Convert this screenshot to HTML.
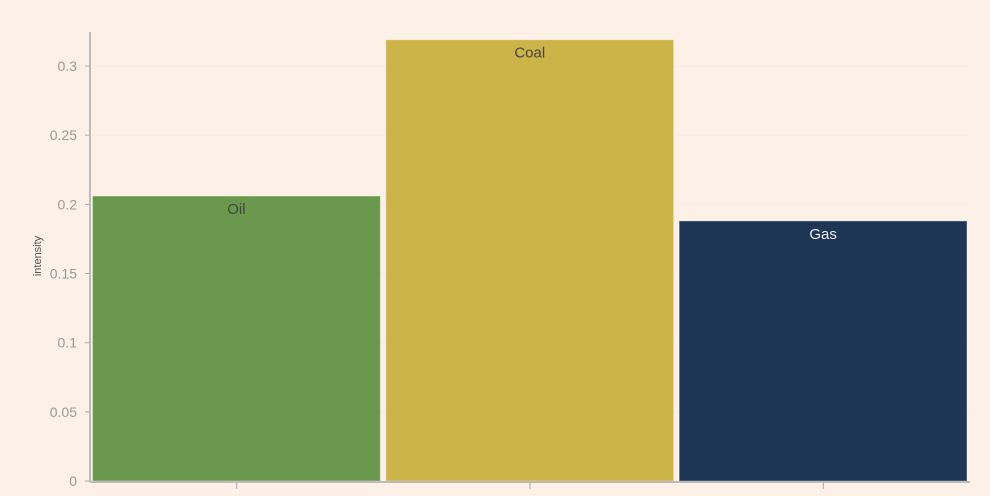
<!DOCTYPE html>
<html><head><meta charset="utf-8"><style>
html,body{margin:0;padding:0;background:#fcf0e7;}
svg{display:block;font-family:"Liberation Sans",sans-serif;}
</style></head><body>
<svg id="chart" width="990" height="496">
<rect width="990" height="496" fill="#fcf0e7"/>
</svg>
<script>
const categories = ["Oil","Coal","Gas"];
const values = [0.206, 0.319, 0.188];
const colors = ["#6a994e","#cdb449","#1e3555"];
const labelColors = ["#444444","#444444","#eeeeee"];
const yTicks = [0,0.05,0.1,0.15,0.2,0.25,0.3];
const yTickLabels = ["0","0.05","0.1","0.15","0.2","0.25","0.3"];

const NS="http://www.w3.org/2000/svg";
const svg=document.getElementById('chart');
const x0=90,x1=970,yBase=481,yPerUnit=(481-66)/0.3;
const y=v=>yBase-v*yPerUnit;
const band=(x1-x0)/categories.length;
const bx=i=>x0+i*band;
function mk(t,a){const e=document.createElementNS(NS,t);for(const k in a)e.setAttribute(k,a[k]);svg.appendChild(e);return e;}

yTicks.forEach((t,i)=>{
  if(t>0){const g=mk('line',{x1:x0,x2:x1,y1:y(t),y2:y(t),stroke:'#f3ebe6','stroke-width':1});
  
  }
  const tk=mk('line',{x1:x0-5,x2:x0,y1:y(t),y2:y(t),stroke:'#aaa','stroke-width':1});
  
  
  const lb=mk('text',{x:x0-13,y:y(t)+5,'text-anchor':'end','font-size':14,fill:'#999'});
  lb.textContent=yTickLabels[i];
  
  
});

categories.forEach((c,i)=>{
  const left=bx(i)+2.5,w=band-5.5;
  const r=mk('rect',{x:left,y:y(values[i]),width:w,height:yBase-y(values[i]),fill:colors[i],stroke:'rgba(255,255,255,0.35)','stroke-width':1});
  
  
  const t=mk('text',{x:left+w/2,y:y(values[i])+18,'text-anchor':'middle','font-size':15,fill:labelColors[i]});
  t.textContent=c;
  
  
  const tk=mk('line',{x1:bx(i)+band/2,x2:bx(i)+band/2,y1:yBase,y2:yBase+8,stroke:'#aaa','stroke-width':1});
  
  
});

const ya=mk('line',{x1:x0,x2:x0,y1:32,y2:yBase+1,stroke:'#bbb','stroke-width':2});


const xa=mk('line',{x1:x0,x2:x1,y1:yBase+1,y2:yBase+1,stroke:'#bbb','stroke-width':2});


const yt=mk('text',{x:0,y:0,transform:'translate(41,256) rotate(-90)','text-anchor':'middle','font-size':11,fill:'#555'});
yt.textContent='intensity';


</script>
</body></html>
